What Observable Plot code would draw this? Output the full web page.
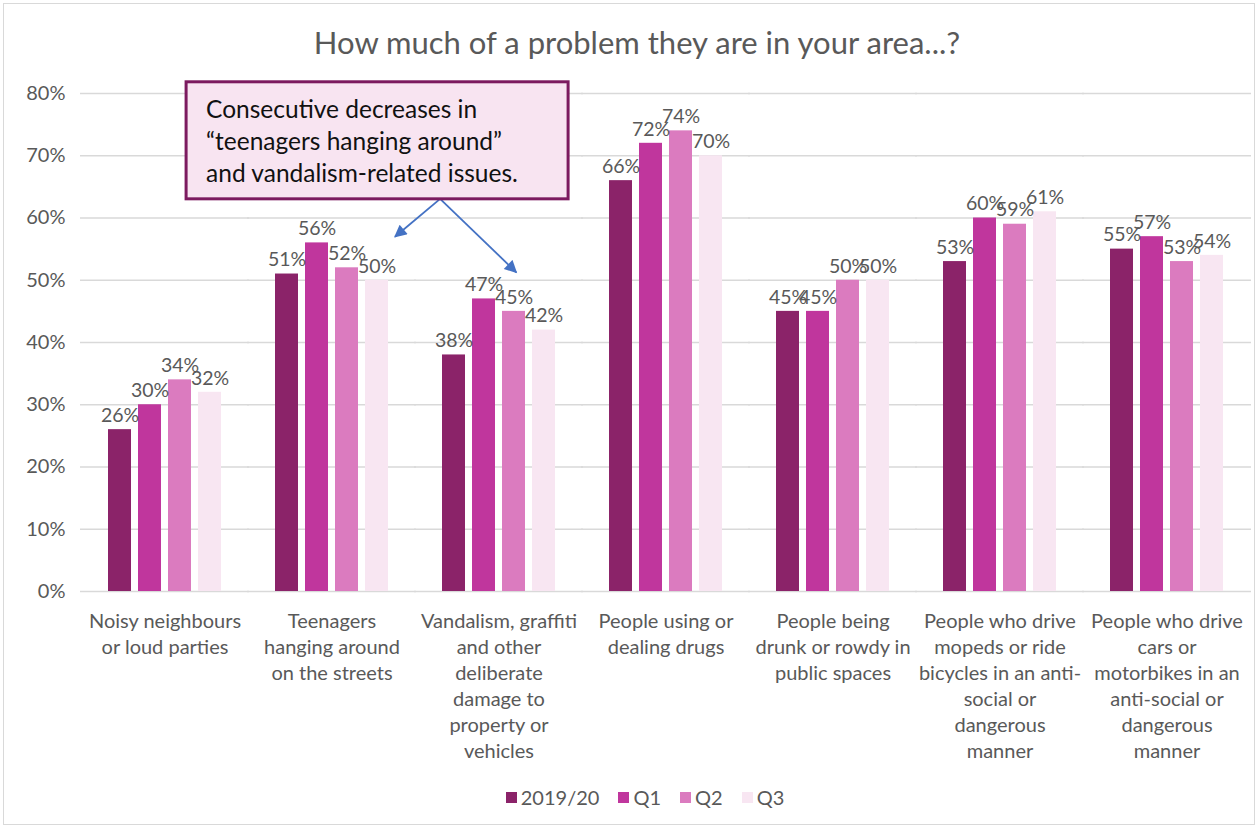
<!DOCTYPE html>
<html>
<head>
<meta charset="utf-8">
<script src="https://cdn.jsdelivr.net/npm/d3@7"></script>
<script src="https://cdn.jsdelivr.net/npm/@observablehq/plot@0.6"></script>
<style>
  html, body { margin: 0; padding: 0; background: #fff; }
  #wrap { position: relative; width: 1258px; height: 829px; overflow: hidden; font-family: Lato, "Open Sans", sans-serif; }
  #frame { position: absolute; left: 3px; top: 3px; width: 1252px; height: 822px; border: 1px solid #d9d9d9; box-sizing: border-box; }
  #title { position: absolute; left: 0; top: 23px; width: 1274px; text-align: center; font-size: 31px; color: #595959; }
  #chart { position: absolute; left: 0; top: 0; }
  #legend { position: absolute; left: 0; top: 785px; width: 1290px; display: flex; justify-content: center; gap: 19px; font-size: 20px; color: #595959; }
  #legend .item { display: flex; align-items: center; gap: 4px; }
  #legend .sw { width: 11px; height: 11px; display: inline-block; }
  #overlay { position: absolute; left: 0; top: 0; pointer-events: none; }
</style>
</head>
<body>
<div id="wrap">
  <div id="frame"></div>
  <div id="title">How much of a problem they are in your area...?</div>
  <div id="chart"></div>
  <div id="legend"></div>
  <svg id="overlay" width="1258" height="829"></svg>
</div>
<script>
const categories = [
  "Noisy neighbours\nor loud parties",
  "Teenagers\nhanging around\non the streets",
  "Vandalism, graffiti\nand other\ndeliberate\ndamage to\nproperty or\nvehicles",
  "People using or\ndealing drugs",
  "People being\ndrunk or rowdy in\npublic spaces",
  "People who drive\nmopeds or ride\nbicycles in an anti-\nsocial or\ndangerous\nmanner",
  "People who drive\ncars or\nmotorbikes in an\nanti-social or\ndangerous\nmanner"
];
const series = ["2019/20", "Q1", "Q2", "Q3"];
const colors = ["#8B2369", "#C0369D", "#DB7BBF", "#F8E6F2"];
const values2019 = [26, 51, 38, 66, 45, 53, 55];
const valuesQ1   = [30, 56, 47, 72, 45, 60, 57];
const valuesQ2   = [34, 52, 45, 74, 50, 59, 53];
const valuesQ3   = [32, 50, 42, 70, 50, 61, 54];
const yTicks = [0, 10, 20, 30, 40, 50, 60, 70, 80];
const annotationText = ["Consecutive decreases in", "\u201Cteenagers hanging around\u201D", "and vandalism-related issues."];

const allValues = [values2019, valuesQ1, valuesQ2, valuesQ3];
const data = [];
categories.forEach((c, i) => {
  series.forEach((s, j) => data.push({category: c, series: s, value: allValues[j][i]}));
});

const W = 1258, H = 770;
const chart = Plot.plot({
  width: W,
  height: H,
  marginTop: 93,
  marginBottom: H - 591,
  marginLeft: 81,
  marginRight: 8,
  style: {fontFamily: "Lato, 'Open Sans', sans-serif", fontSize: "20px", color: "#595959", background: "transparent"},
  fx: {domain: categories, paddingInner: 0.24, paddingOuter: 0.12, label: null, axis: null},
  x: {domain: series, padding: 0.233, axis: null},
  y: {domain: [0, 80], label: null},
  color: {domain: series, range: colors},
  marks: [
    Plot.ruleY(yTicks, {stroke: "#d9d9d9", strokeWidth: 1.5, insetLeft: -21, insetRight: -21}),
    Plot.barY(data, {fx: "category", x: "series", y: "value", fill: "series"}),
    Plot.text(data, {fx: "category", x: "series", y: "value", text: d => d.value + "%", dy: -14, fill: "#595959", fontSize: 19.5}),
    Plot.axisY({ticks: yTicks, tickFormat: d => d + "%", tickSize: 0, tickPadding: 36, fontSize: 20, label: null, fill: "#595959"}),
    Plot.axisFx({anchor: "bottom", tickSize: 0, tickPadding: 18, fontSize: 20, lineHeight: 1.3, label: null, fill: "#595959"})
  ]
});
document.getElementById("chart").appendChild(chart);

// Legend
const legend = document.getElementById("legend");
series.forEach((s, j) => {
  const item = document.createElement("span");
  item.className = "item";
  item.innerHTML = `<span class="sw" style="background:${colors[j]}"></span><span>${s}</span>`;
  legend.appendChild(item);
});

// Annotation callout positioned using the chart's scales
const fx = chart.scale("fx"), y = chart.scale("y");
const bw = fx.bandwidth;
const ns = "http://www.w3.org/2000/svg";
const ov = document.getElementById("overlay");
function el(tag, attrs, parent = ov) {
  const e = document.createElementNS(ns, tag);
  for (const k in attrs) e.setAttribute(k, attrs[k]);
  parent.appendChild(e);
  return e;
}
const boxX = fx.apply(categories[0]) + bw * 0.67, boxY = y.apply(81.8);
const boxW = 382, boxH = y.apply(63) - boxY;
const defs = el("defs", {});
const mk = el("marker", {id: "ah", viewBox: "0 0 10 10", refX: "9", refY: "5", markerWidth: "8", markerHeight: "7", orient: "auto-start-reverse"}, defs);
el("path", {d: "M0,0 L10,5 L0,10 z", fill: "#4472C4"}, mk);
const sx = boxX + boxW * 0.665, sy = boxY + boxH;
const t1 = [fx.apply(categories[1]) + bw * 1.0, y.apply(56.9)];
const t2 = [fx.apply(categories[2]) + bw * 0.64, y.apply(51.2)];
el("line", {x1: sx, y1: sy, x2: t1[0], y2: t1[1], stroke: "#4472C4", "stroke-width": 1.8, "marker-end": "url(#ah)"});
el("line", {x1: sx, y1: sy, x2: t2[0], y2: t2[1], stroke: "#4472C4", "stroke-width": 1.8, "marker-end": "url(#ah)"});
el("rect", {x: boxX, y: boxY, width: boxW, height: boxH, fill: "#F8E4F1", stroke: "#7C1A5F", "stroke-width": 3});
annotationText.forEach((t, i) => {
  const tx = el("text", {x: boxX + 20, y: boxY + 36 + i * 32, "font-size": 24.5, fill: "#111", "font-family": "Lato, 'Open Sans', sans-serif"});
  tx.textContent = t;
});
</script>
</body>
</html>
